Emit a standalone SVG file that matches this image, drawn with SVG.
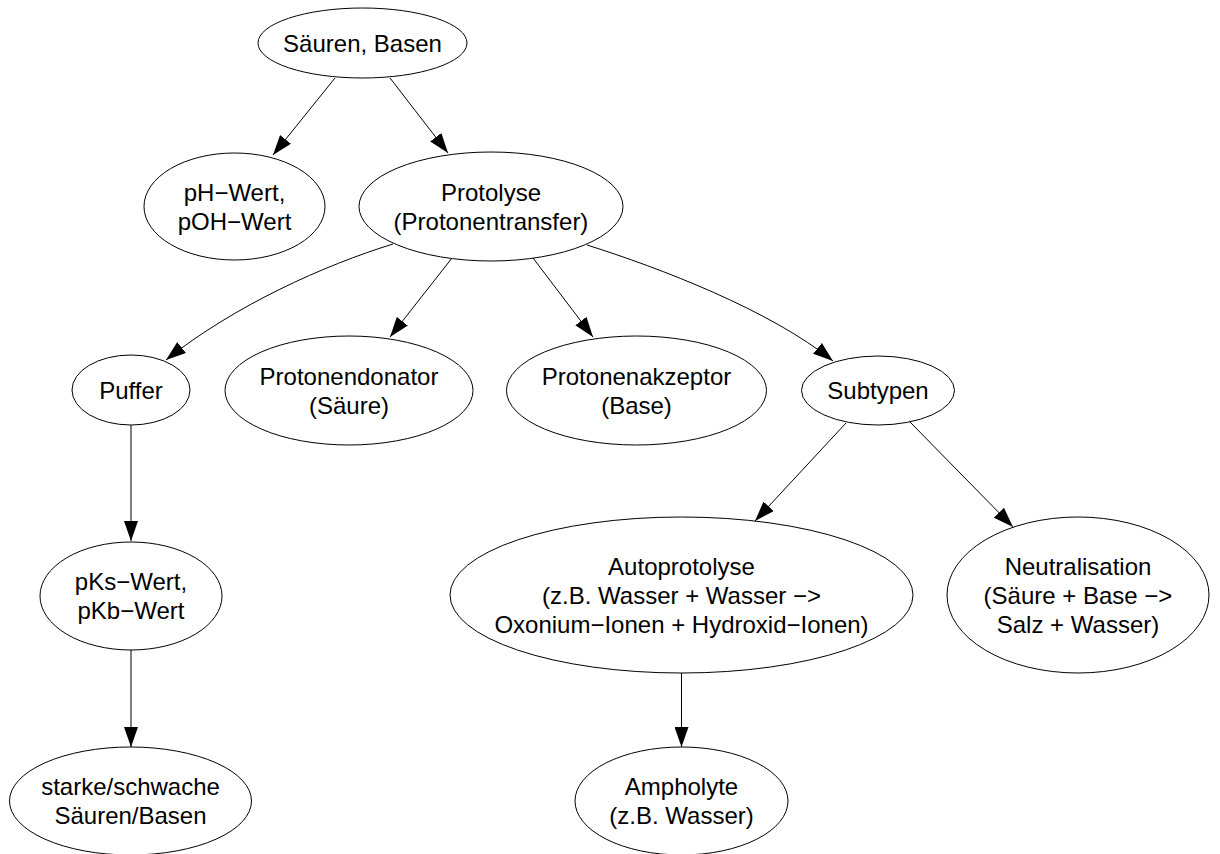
<svg xmlns="http://www.w3.org/2000/svg" width="1220" height="854" viewBox="0 0 1220 854">
<defs>
<style>
.node ellipse{fill:#ffffff;stroke:#000000;stroke-width:1}
.node text{font-family:"Liberation Sans",Arial,Helvetica,sans-serif;font-size:24px;fill:#000000;text-anchor:middle}
.edge{fill:none;stroke:#000000;stroke-width:1;marker-end:url(#arrow)}
</style>
<marker id="arrow" markerUnits="userSpaceOnUse" markerWidth="20" markerHeight="14" refX="20" refY="7" orient="auto">
<path d="M0,0 L20,7 L0,14 Z" fill="#000000"/>
</marker>
</defs>
<rect width="1220" height="854" fill="#ffffff"/>
<g id="connectors">
<path class="edge" d="M335,78 L273,155"/>
<path class="edge" d="M390,78 L448,153"/>
<path class="edge" d="M393,244 C325,265 235,305 166,360"/>
<path class="edge" d="M452,258 L390,337"/>
<path class="edge" d="M533,258 L593,337"/>
<path class="edge" d="M587,245 C660,268 770,310 833,361"/>
<path class="edge" d="M131,425 L131,541"/>
<path class="edge" d="M131,650 L131,747"/>
<path class="edge" d="M846,423 L755,521"/>
<path class="edge" d="M910,422 L1013,527"/>
<path class="edge" d="M681.5,673 L681.5,747"/>
</g>
<g id="n1" class="node">
<ellipse cx="362.5" cy="43" rx="104.5" ry="35"/>
<text x="362.5" y="51.5">Säuren, Basen</text>
</g>
<g id="n2" class="node">
<ellipse cx="234.5" cy="206.5" rx="90.5" ry="53.5"/>
<text x="234.5" y="200.5">pH−Wert,</text>
<text x="234.5" y="229.5">pOH−Wert</text>
</g>
<g id="n3" class="node">
<ellipse cx="491" cy="206.5" rx="132" ry="54.5"/>
<text x="491" y="200.5">Protolyse</text>
<text x="491" y="229.5">(Protonentransfer)</text>
</g>
<g id="n4" class="node">
<ellipse cx="131" cy="390" rx="59" ry="35"/>
<text x="131" y="398.5">Puffer</text>
</g>
<g id="n5" class="node">
<ellipse cx="349" cy="390.5" rx="124" ry="54.5"/>
<text x="349" y="384.5">Protonendonator</text>
<text x="349" y="413.5">(Säure)</text>
</g>
<g id="n6" class="node">
<ellipse cx="636.5" cy="390.5" rx="130" ry="54.5"/>
<text x="636.5" y="384.5">Protonenakzeptor</text>
<text x="636.5" y="413.5">(Base)</text>
</g>
<g id="n7" class="node">
<ellipse cx="878" cy="390.5" rx="76.5" ry="34.5"/>
<text x="878" y="399">Subtypen</text>
</g>
<g id="n8" class="node">
<ellipse cx="131" cy="596" rx="91" ry="54"/>
<text x="131" y="590">pKs−Wert,</text>
<text x="131" y="619">pKb−Wert</text>
</g>
<g id="n9" class="node">
<ellipse cx="681.5" cy="595" rx="231.5" ry="78"/>
<text x="681.5" y="574.5">Autoprotolyse</text>
<text x="681.5" y="603.5">(z.B. Wasser + Wasser −&gt;</text>
<text x="681.5" y="632.5">Oxonium−Ionen + Hydroxid−Ionen)</text>
</g>
<g id="n10" class="node">
<ellipse cx="1078" cy="595" rx="131" ry="78"/>
<text x="1078" y="574.5">Neutralisation</text>
<text x="1078" y="603.5">(Säure + Base −&gt;</text>
<text x="1078" y="632.5">Salz + Wasser)</text>
</g>
<g id="n11" class="node">
<ellipse cx="130.5" cy="801" rx="121" ry="54"/>
<text x="130.5" y="795">starke/schwache</text>
<text x="130.5" y="824">Säuren/Basen</text>
</g>
<g id="n12" class="node">
<ellipse cx="681.5" cy="801" rx="106.5" ry="54"/>
<text x="681.5" y="795">Ampholyte</text>
<text x="681.5" y="824">(z.B. Wasser)</text>
</g>
</svg>
